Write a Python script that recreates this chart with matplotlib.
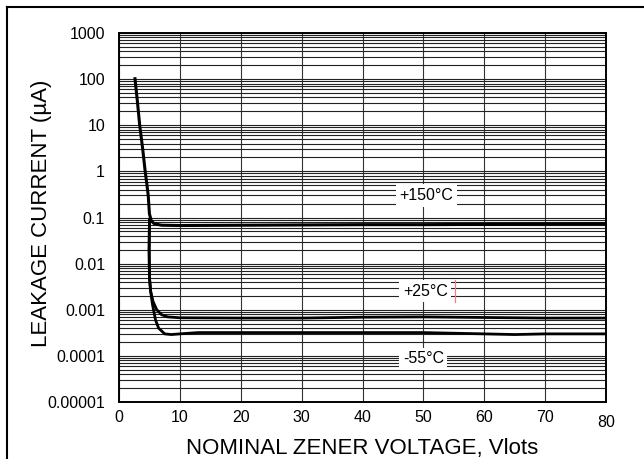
import matplotlib
matplotlib.use("Agg")
import matplotlib.pyplot as plt
from matplotlib.lines import Line2D
from matplotlib.ticker import LogLocator, FixedLocator, NullFormatter

plt.rcParams["font.family"] = ["Liberation Sans", "DejaVu Sans"]

# curves (V, uA)
v150 = [2.6, 3.0, 3.4, 3.9, 4.3, 4.6, 4.8, 5.0, 5.3, 5.8, 7.0, 10, 20, 30, 40, 50, 60, 70, 80]
i150 = [110, 35, 10, 3.0, 1.0, 0.5, 0.3, 0.12, 0.085, 0.073, 0.068, 0.067, 0.068, 0.069, 0.070, 0.070, 0.071, 0.072, 0.073]

v25 = [5.0, 4.95, 5.0, 5.2, 5.6, 6.2, 7.0, 8.0, 10, 20, 30, 40, 50, 60, 70, 80]
i25 = [0.09, 0.02, 0.005, 0.0025, 0.0015, 0.001, 0.00078, 0.0007, 0.00067, 0.00066, 0.00066,
       0.00069, 0.0007, 0.00068, 0.00066, 0.00066]

v55 = [5.0, 4.95, 5.0, 5.2, 5.5, 6.0, 6.5, 7.5, 8.6, 10, 13, 20, 30, 40, 50, 60, 65, 70, 80]
i55 = [0.09, 0.02, 0.005, 0.0025, 0.0013, 0.0006, 0.0004, 0.0003, 0.00029, 0.0003, 0.00032,
       0.00032, 0.00032, 0.00032, 0.00032, 0.0003, 0.00029, 0.0003, 0.0003]

labels = ["+150°C", "+25°C", "-55°C"]
label_v = [50.5, 50.3, 50.0]
label_i = [0.3, 0.0025, 0.000086]

xticks = [0, 10, 20, 30, 40, 50, 60, 70, 80]
yticks = [1e-5, 1e-4, 1e-3, 1e-2, 1e-1, 1, 10, 100, 1000]
yticklabels = ["0.00001", "0.0001", "0.001", "0.01", "0.1", "1", "10", "100", "1000"]

fig = plt.figure(figsize=(6.44, 4.59), dpi=100)
ax = fig.add_axes([119 / 644, 1 - 402 / 459, 487 / 644, 369 / 459])

ax.set_yscale("log")
ax.set_xlim(0, 80)
ax.set_ylim(1e-5, 1000)
ax.xaxis.set_major_locator(FixedLocator(xticks))
ax.set_xticklabels([str(t) for t in xticks], fontsize=11.5)
ax.yaxis.set_major_locator(FixedLocator(yticks))
ax.set_yticklabels(yticklabels, fontsize=11.5)
ax.yaxis.set_minor_locator(LogLocator(base=10, subs=range(2, 10), numticks=20))
ax.yaxis.set_minor_formatter(NullFormatter())
ax.tick_params(which="both", length=0)
ax.tick_params(axis="y", pad=10)
ax.tick_params(axis="x", pad=6)
# the "80" sits a bit lower in the original
ax.get_xticklabels()[-1].set_y(-0.012)

ax.grid(which="major", axis="x", color="#333333", lw=0.8)
ax.grid(which="both", axis="y", color="#222222", lw=0.8)
ax.set_axisbelow(True)
for s in ax.spines.values():
    s.set_color("black")
    s.set_linewidth(1.4)

ax.plot(v150, i150, color="black", lw=2.2, solid_capstyle="butt")
ax.plot(v25, i25, color="black", lw=2.0)
ax.plot(v55, i55, color="black", lw=2.0)

for t, xv, yv in zip(labels, label_v, label_i):
    ax.text(xv, yv, t, fontsize=11.5, ha="center", va="center", zorder=5,
            bbox=dict(facecolor="white", edgecolor="none", pad=2.5))

ax.plot([55.2, 55.2], [0.0045, 0.0015], color="#f08080", lw=0.9, zorder=6)

ax.set_xlabel("NOMINAL ZENER VOLTAGE, Vlots", fontsize=16, labelpad=6)
ax.set_ylabel("LEAKAGE CURRENT (µA)", fontsize=16)
ax.yaxis.set_label_coords(-0.138, 0.51)

# page border (top and left edges only visible)
fig.add_artist(Line2D([7 / 644, 1], [1 - 7 / 459, 1 - 7 / 459], color="black", lw=1.5,
                      transform=fig.transFigure))
fig.add_artist(Line2D([7 / 644, 7 / 644], [0, 1 - 7 / 459], color="black", lw=1.5,
                      transform=fig.transFigure))

fig.savefig("out.png", dpi=100)
